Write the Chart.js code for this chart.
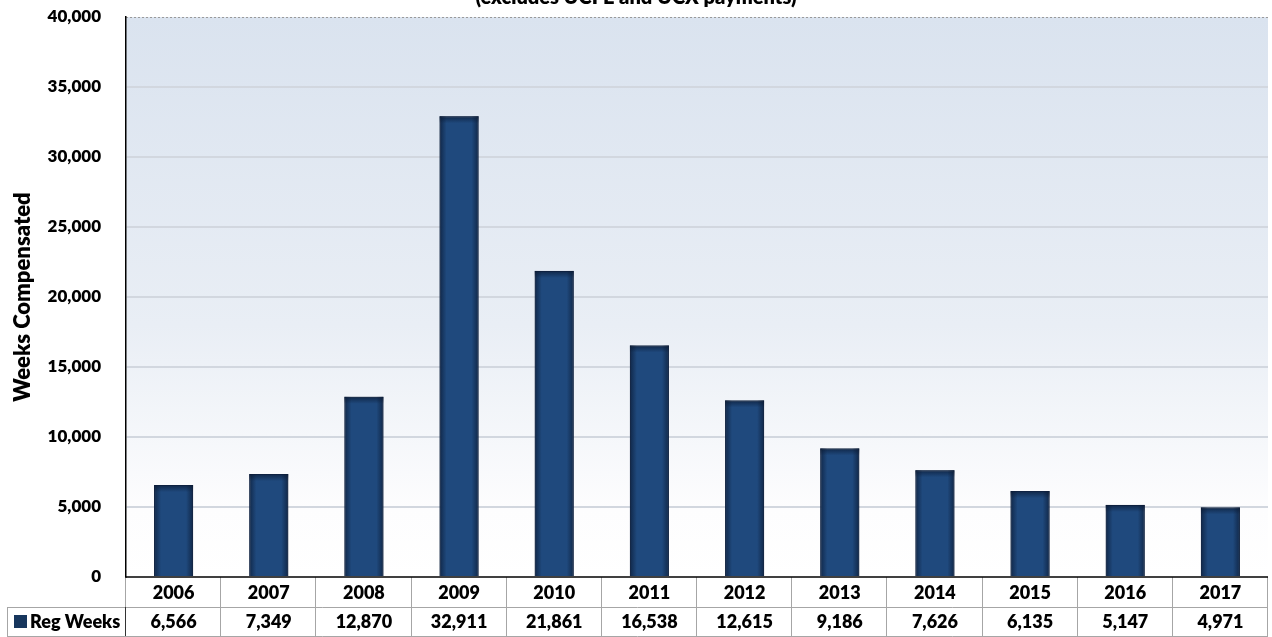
<!DOCTYPE html>
<html>
<head>
<meta charset="utf-8">
<script src="https://cdn.jsdelivr.net/npm/chart.js@4.4.1/dist/chart.umd.min.js"></script>
<style>
    body { margin: 0; background: #fff; }
    #wrap { width: 1272px; height: 637px; position: relative; }
</style>
</head>
<body>
<div id="wrap"><canvas id="weeksChart"></canvas></div>
<script>
// Chart data
const years = ['2006', '2007', '2008', '2009', '2010', '2011', '2012', '2013', '2014', '2015', '2016', '2017'];
const regWeeks = [6566, 7349, 12870, 32911, 21861, 16538, 12615, 9186, 7626, 6135, 5147, 4971];
const seriesName = 'Reg Weeks';
const subtitle = '(excludes UCFE and UCX payments)';
const yAxisTitle = 'Weeks Compensated';
const yMax = 40000;
const yStep = 5000;

const FONT = 'Lato, "Open Sans", "DejaVu Sans", sans-serif';
const WEIGHT = '800';
const BAR_COLOR = '#1f497d';
const fmt = v => Number(v).toLocaleString('en-US');

// gradient behind the plot area + dotted top line
const plotBackground = {
    id: 'plotBackground',
    beforeDraw(chart) {
        const { ctx, chartArea: a } = chart;
        const g = ctx.createLinearGradient(0, a.top, 0, a.bottom);
        g.addColorStop(0, '#dae3ef');
        g.addColorStop(0.55, '#e9eef5');
        g.addColorStop(0.88, '#fdfdfe');
        g.addColorStop(1, '#ffffff');
        ctx.save();
        ctx.fillStyle = g;
        ctx.fillRect(a.left, a.top, a.right - a.left, a.bottom - a.top);
        ctx.strokeStyle = '#9a9a9a';
        ctx.lineWidth = 1;
        ctx.setLineDash([2, 2]);
        ctx.beginPath();
        ctx.moveTo(a.left, a.top + 0.5);
        ctx.lineTo(a.right, a.top + 0.5);
        ctx.stroke();
        ctx.restore();
    }
};

// darker edges on each bar, like the Excel inner shadow
const barShade = {
    id: 'barShade',
    afterDatasetsDraw(chart) {
        const { ctx } = chart;
        const meta = chart.getDatasetMeta(0);
        ctx.save();
        meta.data.forEach(bar => {
            const left = bar.x - bar.width / 2;
            const right = bar.x + bar.width / 2;
            const top = bar.y;
            const bottom = bar.base;
            const edge = 7;
            let g = ctx.createLinearGradient(left, 0, left + edge, 0);
            g.addColorStop(0, 'rgba(10,25,50,0.7)');
            g.addColorStop(1, 'rgba(10,25,50,0)');
            ctx.fillStyle = g;
            ctx.fillRect(left, top, edge, bottom - top);
            g = ctx.createLinearGradient(right, 0, right - edge, 0);
            g.addColorStop(0, 'rgba(10,25,50,0.7)');
            g.addColorStop(1, 'rgba(10,25,50,0)');
            ctx.fillStyle = g;
            ctx.fillRect(right - edge, top, edge, bottom - top);
            g = ctx.createLinearGradient(0, top, 0, top + edge);
            g.addColorStop(0, 'rgba(10,25,50,0.7)');
            g.addColorStop(1, 'rgba(10,25,50,0)');
            ctx.fillStyle = g;
            ctx.fillRect(left, top, right - left, edge);
        });
        ctx.restore();
    }
};

// subtitle, x axis line and the data table under the plot
const dataTable = {
    id: 'dataTable',
    afterDraw(chart) {
        const { ctx, chartArea: a } = chart;
        const x = chart.scales.x;
        const cellW = (a.right - a.left) / years.length;
        const row1Top = a.bottom;
        const row2Top = a.bottom + 30;
        const tableBottom = chart.height - 1;
        const tableLeft = 7;

        ctx.save();
        // subtitle (cut at the top edge as in the original)
        ctx.fillStyle = '#000';
        ctx.font = WEIGHT + ' 20px ' + FONT;
        ctx.textAlign = 'center';
        ctx.textBaseline = 'alphabetic';
        ctx.fillText(subtitle, chart.width / 2, 4);

        // grid of the table
        ctx.strokeStyle = '#a6a6a6';
        ctx.lineWidth = 1;
        ctx.beginPath();
        for (let i = 1; i <= years.length; i++) {
            const bx = Math.round(a.left + i * cellW) - 0.5;
            ctx.moveTo(bx, row1Top);
            ctx.lineTo(bx, tableBottom);
        }
        ctx.moveTo(tableLeft, row2Top + 0.5);
        ctx.lineTo(a.right, row2Top + 0.5);
        ctx.moveTo(tableLeft, tableBottom + 0.5);
        ctx.lineTo(a.right, tableBottom + 0.5);
        ctx.moveTo(tableLeft + 0.5, row2Top);
        ctx.lineTo(tableLeft + 0.5, tableBottom);
        ctx.moveTo(a.left - 0.5, row1Top);
        ctx.lineTo(a.left - 0.5, row2Top);
        ctx.stroke();

        ctx.strokeStyle = '#333';
        ctx.beginPath();
        ctx.moveTo(a.left - 0.5, row2Top);
        ctx.lineTo(a.left - 0.5, tableBottom);
        ctx.stroke();

        // x axis line
        ctx.strokeStyle = '#000';
        ctx.lineWidth = 1.5;
        ctx.beginPath();
        ctx.moveTo(a.left - 1, a.bottom);
        ctx.lineTo(a.right, a.bottom);
        ctx.stroke();

        // category row
        ctx.textBaseline = 'middle';
        ctx.font = WEIGHT + ' 18px ' + FONT;
        years.forEach((y, i) => {
            ctx.fillText(y, x.getPixelForValue(i), row1Top + 16);
        });

        // value row
        regWeeks.forEach((v, i) => {
            ctx.fillText(fmt(v), x.getPixelForValue(i), row2Top + 15);
        });

        // legend key + series name
        ctx.fillStyle = '#17365d';
        ctx.fillRect(14, row2Top + 8, 13, 13);
        ctx.fillStyle = '#000';
        ctx.textAlign = 'left';
        ctx.font = WEIGHT + ' 18px ' + FONT;
        ctx.fillText(seriesName, 30, row2Top + 15);
        ctx.restore();
    }
};

new Chart(document.getElementById('weeksChart'), {
    type: 'bar',
    data: {
        labels: years,
        datasets: [{
            label: seriesName,
            data: regWeeks,
            backgroundColor: BAR_COLOR,
            borderColor: '#15305a',
            borderWidth: 1,
            categoryPercentage: 1,
            barPercentage: 0.41
        }]
    },
    options: {
        responsive: true,
        maintainAspectRatio: false,
        animation: false,
        layout: { padding: { left: 0, top: 17, right: 4, bottom: 60 } },
        plugins: {
            legend: { display: false },
            tooltip: { enabled: false }
        },
        scales: {
            x: { display: false },
            y: {
                min: 0,
                max: yMax,
                afterFit: (scale) => {
                    scale.width = 126;
                    scale.paddingTop = 0;
                    scale.paddingBottom = 0;
                },
                border: { color: '#000', width: 1.5 },
                grid: {
                    drawTicks: false,
                    lineWidth: 2,
                    color: (c) => (c.tick && (c.tick.value === 0 || c.tick.value === yMax)) ? 'rgba(0,0,0,0)' : '#d2d7df'
                },
                ticks: {
                    stepSize: yStep,
                    padding: 25,
                    color: '#000',
                    font: { family: FONT, size: 17, weight: WEIGHT },
                    callback: (v) => fmt(v)
                },
                title: {
                    display: true,
                    text: yAxisTitle,
                    color: '#000',
                    padding: { top: 10, bottom: 0 },
                    font: { family: FONT, size: 22, weight: WEIGHT }
                }
            }
        }
    },
    plugins: [plotBackground, barShade, dataTable]
});
</script>
</body>
</html>
